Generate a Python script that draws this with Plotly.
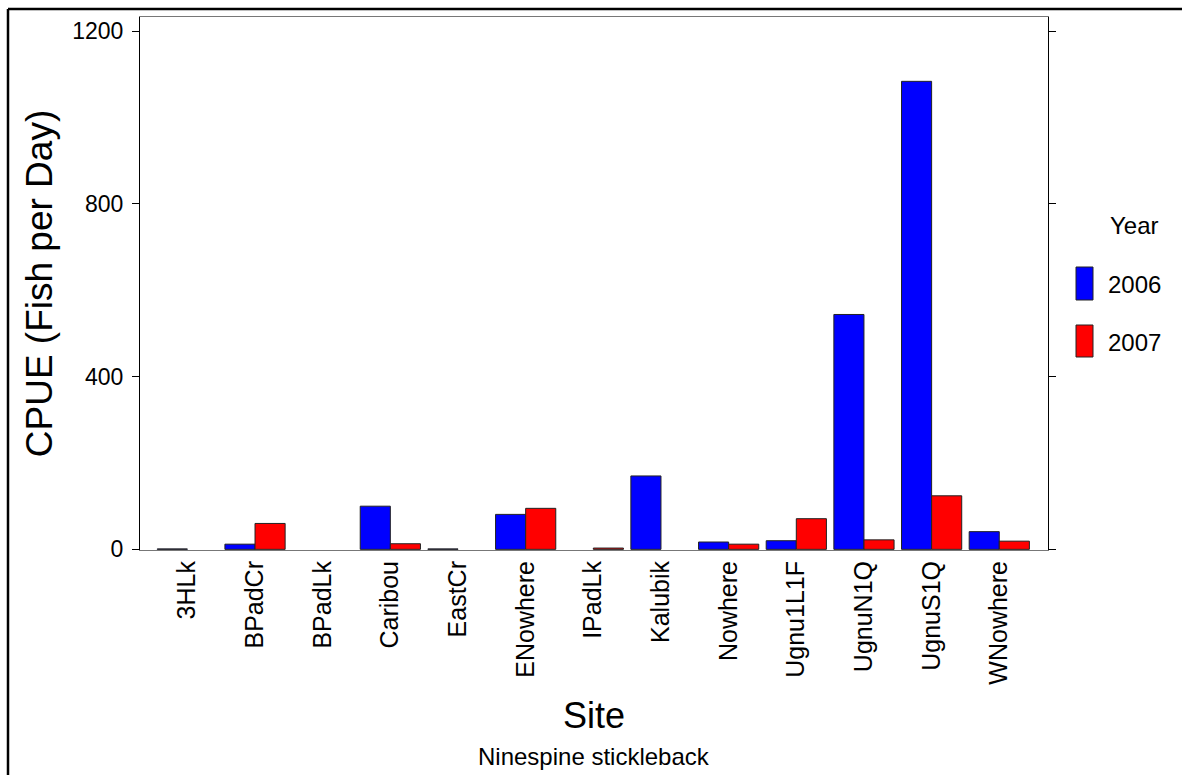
import plotly.graph_objects as go

# ---- data ----
sites = ["3HLk", "BPadCr", "BPadLk", "Caribou", "EastCr", "ENowhere", "IPadLk",
         "Kalubik", "Nowhere", "Ugnu1L1F", "UgnuN1Q", "UgnuS1Q", "WNowhere"]
cpue_2006 = [1, 12, None, 100, 1, 81, None, 170, 17, 20, 544, 1084, 41]
cpue_2007 = [None, 60, None, 13, None, 95, 3, None, 12, 71, 22, 124, 19]
years = ["2006", "2007"]
colors = ["#0000FF", "#FF0000"]
y_ticks = [0, 400, 800, 1200]

FONT = "Liberation Sans, Arial, sans-serif"
W, H = 1182, 775
L, R, T, B = 140, 134, 17, 225
PW, PH = W - L - R, H - T - B


def px_x(px):
    return (px - L) / PW


def px_y(py):
    return (H - B - py) / PH


fig = go.Figure()
for name, vals, col in zip(years, [cpue_2006, cpue_2007], colors):
    fig.add_trace(go.Bar(
        x=sites, y=vals, name=name,
        marker=dict(color=col, line=dict(color="#222222", width=1)),
        showlegend=False,
    ))

shapes = []
# outer border (left and top edges visible)
shapes.append(dict(type="line", xref="paper", yref="paper",
                   x0=px_x(8), x1=px_x(8), y0=px_y(9), y1=px_y(820),
                   line=dict(color="black", width=2.5)))
shapes.append(dict(type="line", xref="paper", yref="paper",
                   x0=px_x(8), x1=px_x(1230), y0=px_y(9), y1=px_y(9),
                   line=dict(color="black", width=2.5)))

annotations = []
# custom legend
annotations.append(dict(text="Year", xref="paper", yref="paper",
                        x=px_x(1108), y=px_y(226), xanchor="left", yanchor="middle",
                        showarrow=False, font=dict(family=FONT, size=24, color="black")))
leg_rows = [(267, 300, 284), (325, 357, 342)]
for (y0, y1, yc), name, col in zip(leg_rows, years, colors):
    shapes.append(dict(type="rect", xref="paper", yref="paper",
                       x0=px_x(1076), x1=px_x(1093), y0=px_y(y0), y1=px_y(y1),
                       fillcolor=col, line=dict(color="#222222", width=1)))
    annotations.append(dict(text=name, xref="paper", yref="paper",
                            x=px_x(1106), y=px_y(yc), xanchor="left", yanchor="middle",
                            showarrow=False, font=dict(family=FONT, size=24, color="black")))

annotations.append(dict(text="Ninespine stickleback", xref="paper", yref="paper",
                        x=0.5, y=px_y(756), xanchor="center", yanchor="middle",
                        showarrow=False, font=dict(family=FONT, size=24, color="black")))

fig.update_layout(
    width=W, height=H,
    margin=dict(l=L, r=R, t=T, b=B, autoexpand=False),
    paper_bgcolor="white", plot_bgcolor="white",
    font=dict(family=FONT, size=24, color="black"),
    barmode="group", bargap=0.11, bargroupgap=0,
    shapes=shapes, annotations=annotations,
    showlegend=False,
)
fig.update_xaxes(
    type="category", range=[-0.7, 12.72],
    showline=True, linecolor="#777777", linewidth=1, mirror=True,
    ticks="", tickangle=-90, tickfont=dict(family=FONT, size=25, color="black"),
    showgrid=False, zeroline=False,
    title=dict(text="Site", font=dict(family=FONT, size=36, color="black"), standoff=19),
)
fig.update_yaxes(
    range=[-1.5, 1233],
    tickvals=y_ticks, ticktext=[str(v) for v in y_ticks],
    showline=True, linecolor="black", linewidth=1, mirror="ticks",
    ticks="outside", ticklen=7, tickcolor="black", tickwidth=1,
    tickfont=dict(family=FONT, size=23, color="black"),
    ticklabelstandoff=4,
    showgrid=False, zeroline=False,
    title=dict(text="CPUE (Fish per Day)", font=dict(family=FONT, size=37, color="black"), standoff=8),
)

fig.write_html("out.html")
